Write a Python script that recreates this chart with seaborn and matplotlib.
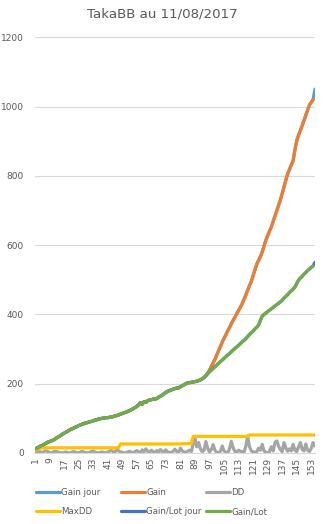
import numpy as np
import pandas as pd
import matplotlib
matplotlib.use("Agg")
import matplotlib.pyplot as plt
import seaborn as sns
from matplotlib.lines import Line2D

# ---------------- data ----------------
days = list(range(1, 156))

shared = [12, 14, 17, 20, 22, 25, 28, 31, 33, 35,
          37, 40, 44, 47, 50, 54, 57, 60, 63, 66,
          69, 71, 74, 76, 79, 81, 83, 85, 87, 88,
          90, 91, 93, 95, 96, 98, 99, 100, 101, 102,
          102, 103, 104, 105, 107, 108, 110, 112, 114, 116,
          118, 120, 122, 125, 128, 131, 134, 139, 145, 141,
          148, 146, 151, 153, 154, 155, 156, 157, 161, 164,
          167, 171, 175, 178, 180, 182, 184, 186, 187, 188,
          191, 194, 197, 200, 202, 203, 204, 205, 206, 207,
          209, 211, 214, 218, 223]

gain_tail = [230, 239, 250, 260, 270, 283, 295, 307, 320, 331,
             341, 352, 362, 373, 383, 392, 402, 412, 421, 431,
             443, 456, 470, 483, 495, 512, 530, 545, 556, 567,
             580, 597, 614, 627, 640, 652, 668, 683, 699, 715,
             730, 749, 768, 787, 806, 818, 831, 844, 875, 902,
             917, 931, 945, 960, 975, 990, 1005, 1012, 1020]

lot_tail = [229, 234, 239, 244, 249, 254, 259, 264, 268, 273,
            278, 283, 287, 292, 297, 302, 306, 311, 316, 321,
            325, 330, 336, 342, 347, 352, 358, 363, 369, 383,
            395, 400, 404, 408, 412, 416, 420, 424, 428, 432,
            436, 441, 447, 452, 457, 463, 468, 473, 479, 489,
            499, 505, 510, 516, 521, 527, 531, 536, 540]

gain_jour = shared + gain_tail + [1050]
gain = shared + gain_tail + [np.nan]
gain_lot_jour = shared + lot_tail + [550]
gain_lot = shared + lot_tail + [np.nan]

dd = [0, 2, 4, 3, 1, 5, 6, 4, 2, 0, 3, 5, 4, 2, 1, 0, 2, 3, 1, 0,
      2, 4, 3, 1, 0, 3, 5, 2, 1, 0, 2, 4, 6, 3, 1, 0, 2, 3, 1, 0,
      3, 5, 7, 4, 2, 10, 6, 3, 2, 0, 1, 3, 5, 2, 0, 4, 7, 3, 1, 9,
      3, 12, 5, 2, 8, 4, 1, 7, 3, 10, 4, 2, 9, 3, 1, 2, 5, 11, 4, 2,
      14, 6, 3, 2, 5, 8, 4, 26, 42, 18,
      30, 12, 4, 8, 33, 14, 3, 10, 24, 8,
      2, 0, 5, 20, 6, 2, 0, 12, 34, 15,
      4, 2, 8, 5, 3, 2, 20, 49, 18, 6,
      3, 2, 4, 14, 8, 25, 6, 2, 0, 4,
      18, 6, 30, 35, 20, 10, 4, 30, 15, 5,
      12, 6, 25, 8, 4, 18, 30, 10, 6, 26,
      8, 4, 14, 30, 20]

maxdd = [8, 10, 12, 14] + [15] * 43 + [26] * 34 + [27] * 6 + [48] * 31 + [52] * 37

series_names = ["Gain jour", "Gain", "DD", "MaxDD", "Gain/Lot jour", "Gain/Lot"]
series_values = [gain_jour, gain, dd, maxdd, gain_lot_jour, gain_lot]
colors = ["#5B9BD5", "#ED7D31", "#A5A5A5", "#FFC000", "#4472C4", "#70AD47"]

title = "TakaBB au 11/08/2017"
yticks = [0, 200, 400, 600, 800, 1000, 1200]
xtick_labels = list(range(1, 156, 8))

# ---------------- plot ----------------
sns.set_theme(style="white")
plt.rcParams["font.family"] = ["DejaVu Sans"]

fig = plt.figure(figsize=(3.24, 5.24), dpi=100)
ax = fig.add_axes([0.108, 0.1355, 0.864, 0.7935])

for name, vals, col in zip(series_names, series_values, colors):
    df = pd.DataFrame({"day": days, "value": vals}).dropna()
    sns.lineplot(data=df, x="day", y="value", ax=ax, color=col,
                 linewidth=2.3, legend=False, solid_capstyle="round")

ax.set_xlim(1, 155)
ax.set_ylim(0, 1200)
ax.set_yticks(yticks)
ax.set_yticklabels([str(v) for v in yticks], fontsize=6.5, color="#595959")
ax.set_xticks(xtick_labels)
ax.set_xticklabels([str(v) for v in xtick_labels], rotation=90,
                   fontsize=6.5, color="#595959")
ax.tick_params(axis="y", length=0, pad=8)
ax.tick_params(axis="x", length=0, pad=3)
ax.grid(axis="y", color="#D9D9D9", linewidth=0.8)
ax.set_axisbelow(True)
for s in ["top", "right", "left"]:
    ax.spines[s].set_visible(False)
ax.spines["bottom"].set_color("#D9D9D9")
ax.spines["bottom"].set_linewidth(0.8)
ax.set_xlabel("")
ax.set_ylabel("")

fig.text(0.5, 0.974, title, ha="center", va="center", fontsize=9.6, color="#595959")

handles = {n: Line2D([0], [0], color=c, linewidth=2.3) for n, c in zip(series_names, colors)}
columns = [["Gain jour", "MaxDD"], ["Gain", "Gain/Lot jour"], ["DD", "Gain/Lot"]]
col_x = [36 / 324, 121 / 324, 206 / 324]
for names, x0 in zip(columns, col_x):
    leg = fig.legend([handles[n] for n in names], names, loc="upper left",
                     bbox_to_anchor=(x0, 0.0695), ncol=1, frameon=False,
                     fontsize=6.2, handlelength=2.8, handletextpad=0.15,
                     labelspacing=1.25, borderpad=0, borderaxespad=0,
                     labelcolor="#595959")

fig.savefig("out.png", dpi=100)
